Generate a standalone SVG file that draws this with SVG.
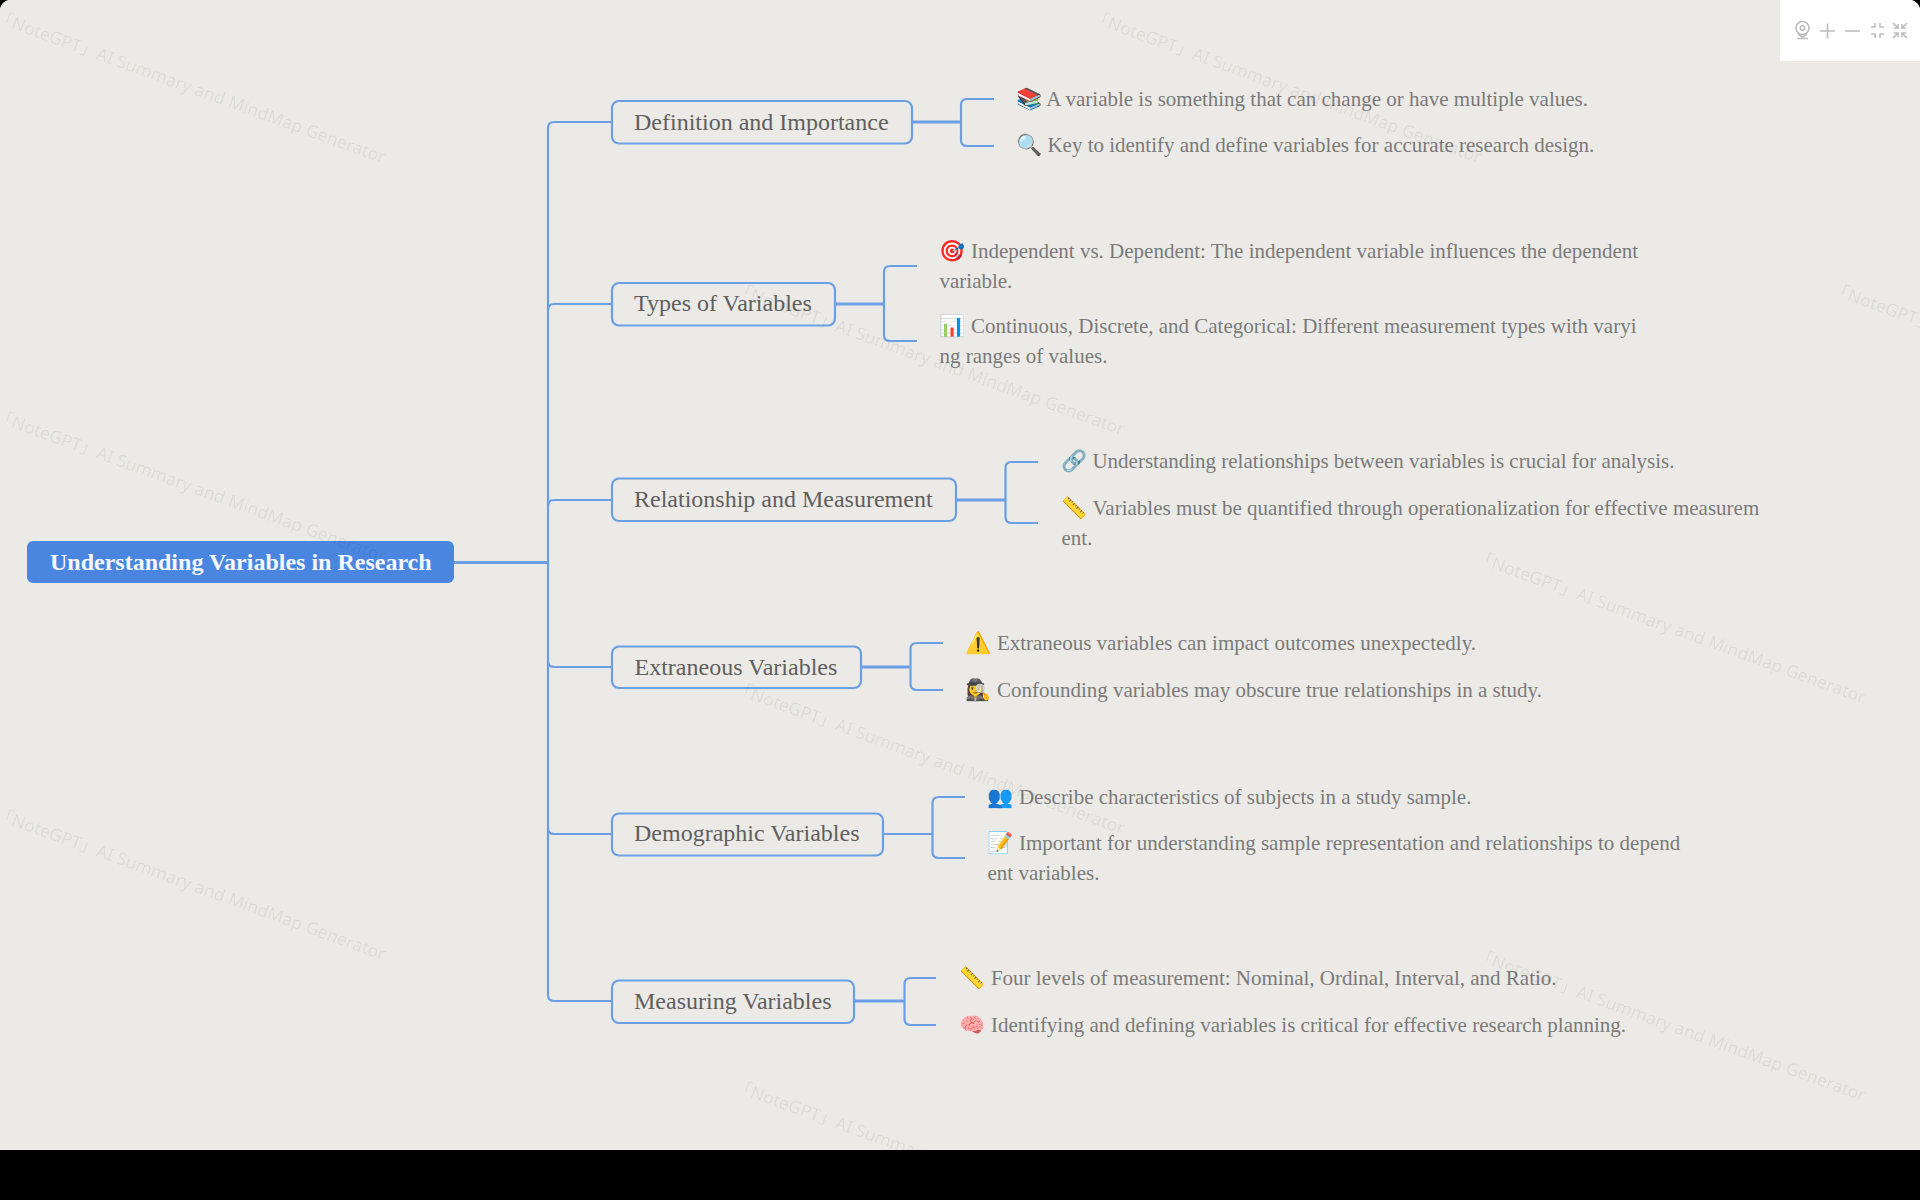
<svg xmlns="http://www.w3.org/2000/svg" width="1920" height="1200" viewBox="0 0 1920 1200">
<style>
.bg{fill:#ebeae6}
.c{fill:none;stroke:#6a9fe6;stroke-width:2.2}
.s{fill:none;stroke:#6a9fe6;stroke-width:3}
.n{fill:#ebeae6;stroke:#6a9fe6;stroke-width:2.2}
.nt{font:24px "Liberation Serif","Noto Color Emoji",serif;fill:#5f5f5f}
.lt{font:21px "Liberation Serif","Noto Color Emoji",serif;fill:#7a7a7a}
.rt{font:bold 24px "Liberation Serif",serif;fill:#f4f7fc}
.wm{font:17.4px "Noto Sans","Noto Sans CJK SC",sans-serif;fill:#000;fill-opacity:.07}
.ic{fill:none;stroke:#bdbdbd;stroke-width:1.6}
</style>
<rect class="bg" width="1920" height="1200"/>

<g id="connectors">
<path class="s" d="M454 562.500H548"/>
<path class="c" d="M612 122H554Q548 122 548 128V995Q548 1001 554 1001H612"/>
<path class="c" d="M548 310Q548 304 554 304H612"/>
<path class="c" d="M548 506Q548 500 554 500H612"/>
<path class="c" d="M548 661Q548 667 554 667H612"/>
<path class="c" d="M548 828Q548 834 554 834H612"/>
<path class="s" d="M912 122H961"/><path class="c" d="M994 99H967Q961 99 961 105V140Q961 146 967 146H994"/>
<path class="s" d="M835 304H884"/><path class="c" d="M917 266H890Q884 266 884 272V335Q884 341 890 341H917"/>
<path class="s" d="M956 500H1005.500"/><path class="c" d="M1038 462H1011.500Q1005.500 462 1005.500 468V517Q1005.500 523 1011.500 523H1038"/>
<path class="s" d="M861 667H910.500"/><path class="c" d="M943 643H917Q910.500 643 910.500 649V684Q910.500 690 917 690H943"/>
<path class="c" d="M883 834H932.500M965 797H939Q932.500 797 932.500 803V852Q932.500 858 939 858H965"/>
<path class="s" d="M854 1001H904.500"/><path class="c" d="M936 978H911Q904.500 978 904.500 984V1019Q904.500 1025 911 1025H936"/>
</g>

<g id="root"><rect x="27" y="541" width="427" height="42" rx="6" fill="#4a86e0"/><text class="rt" x="50" y="570">Understanding Variables in Research</text></g>

<g id="node-definition"><rect class="n" x="612" y="101" width="300" height="42.500" rx="7"/><text class="nt" x="634" y="130">Definition and Importance</text></g>
<g id="node-types"><rect class="n" x="612" y="283" width="223" height="42.500" rx="7"/><text class="nt" x="634" y="311">Types of Variables</text></g>
<g id="node-relationship"><rect class="n" x="612" y="478.500" width="344" height="42.500" rx="7"/><text class="nt" x="634" y="507">Relationship and Measurement</text></g>
<g id="node-extraneous"><rect class="n" x="612" y="646.500" width="249" height="41.500" rx="7"/><text class="nt" x="634.500" y="675">Extraneous Variables</text></g>
<g id="node-demographic"><rect class="n" x="612" y="813.500" width="271" height="42" rx="7"/><text class="nt" x="634" y="841">Demographic Variables</text></g>
<g id="node-measuring"><rect class="n" x="612" y="980.500" width="242" height="42.500" rx="7"/><text class="nt" x="634" y="1008.500">Measuring Variables</text></g>

<g id="leaf-definition-1"><text class="lt" x="1016" y="106">📚 A variable is something that can change or have multiple values.</text></g>
<g id="leaf-definition-2"><text class="lt" x="1016" y="152">🔍 Key to identify and define variables for accurate research design.</text></g>
<g id="leaf-types-1"><text class="lt" x="939.500" y="258">🎯 Independent vs. Dependent: The independent variable influences the dependent</text><text class="lt" x="939.500" y="288">variable.</text></g>
<g id="leaf-types-2"><text class="lt" x="939.500" y="333">📊 Continuous, Discrete, and Categorical: Different measurement types with varyi</text><text class="lt" x="939.500" y="363">ng ranges of values.</text></g>
<g id="leaf-relationship-1"><text class="lt" x="1061" y="468">🔗 Understanding relationships between variables is crucial for analysis.</text></g>
<g id="leaf-relationship-2"><text class="lt" x="1061.500" y="514.500">📏 Variables must be quantified through operationalization for effective measurem</text><text class="lt" x="1061.500" y="544.500">ent.</text></g>
<g id="leaf-extraneous-1"><text class="lt" x="965.500" y="649.500">⚠️ Extraneous variables can impact outcomes unexpectedly.</text></g>
<g id="leaf-extraneous-2"><text class="lt" x="965.500" y="697">🕵️‍♀️ Confounding variables may obscure true relationships in a study.</text></g>
<g id="leaf-demographic-1"><text class="lt" x="987.500" y="803.500">👥 Describe characteristics of subjects in a study sample.</text></g>
<g id="leaf-demographic-2"><text class="lt" x="987.500" y="849.500">📝 Important for understanding sample representation and relationships to depend</text><text class="lt" x="987.500" y="879.500">ent variables.</text></g>
<g id="leaf-measuring-1"><text class="lt" x="959.500" y="984.500">📏 Four levels of measurement: Nominal, Ordinal, Interval, and Ratio.</text></g>
<g id="leaf-measuring-2"><text class="lt" x="959.500" y="1031.500">🧠 Identifying and defining variables is critical for effective research planning.</text></g>

<g id="watermarks">
<text class="wm" transform="translate(-6 22) rotate(20)">「NoteGPT」AI Summary and MindMap Generator</text>
<text class="wm" transform="translate(1090 22) rotate(20)">「NoteGPT」AI Summary and MindMap Generator</text>
<text class="wm" transform="translate(733 294) rotate(20)">「NoteGPT」AI Summary and MindMap Generator</text>
<text class="wm" transform="translate(1830 294) rotate(20)">「NoteGPT」AI Summary and MindMap Generator</text>
<text class="wm" transform="translate(-6 421) rotate(20)">「NoteGPT」AI Summary and MindMap Generator</text>
<text class="wm" transform="translate(1474 562) rotate(20)">「NoteGPT」AI Summary and MindMap Generator</text>
<text class="wm" transform="translate(733 693) rotate(20)">「NoteGPT」AI Summary and MindMap Generator</text>
<text class="wm" transform="translate(-6 819) rotate(20)">「NoteGPT」AI Summary and MindMap Generator</text>
<text class="wm" transform="translate(1474 960) rotate(20)">「NoteGPT」AI Summary and MindMap Generator</text>
<text class="wm" transform="translate(733 1091) rotate(20)">「NoteGPT」AI Summary and MindMap Generator</text>
</g>

<g id="toolbar">
<rect x="1780" y="0" width="140" height="61" fill="#fff"/>
<circle class="ic" cx="1802.500" cy="28" r="6.500"/><circle class="ic" cx="1802.500" cy="28" r="2.200"/><path class="ic" d="M1798 34L1802.500 37M1807 34L1802.500 37M1797 38.500H1808"/>
<path class="ic" d="M1820 31H1835M1827.500 23.500V38.500"/>
<path class="ic" d="M1845 31H1860"/>
<path class="ic" d="M1871 27H1875V23M1880 23V27H1884M1871 34H1875V38M1880 38V34H1884"/>
<path class="ic" d="M1893 23L1898 28M1898 24V28H1894M1907 23L1902 28M1902 24V28H1906M1893 38L1898 33M1898 37V33H1894M1907 38L1902 33M1902 37V33H1906"/>
</g>

<path d="M0 0H8Q2 2 0 8Z" fill="#000"/>
<path d="M1920 0H1912Q1918 2 1920 8Z" fill="#000"/>
<rect x="0" y="1150" width="1920" height="50" fill="#000"/>
</svg>
